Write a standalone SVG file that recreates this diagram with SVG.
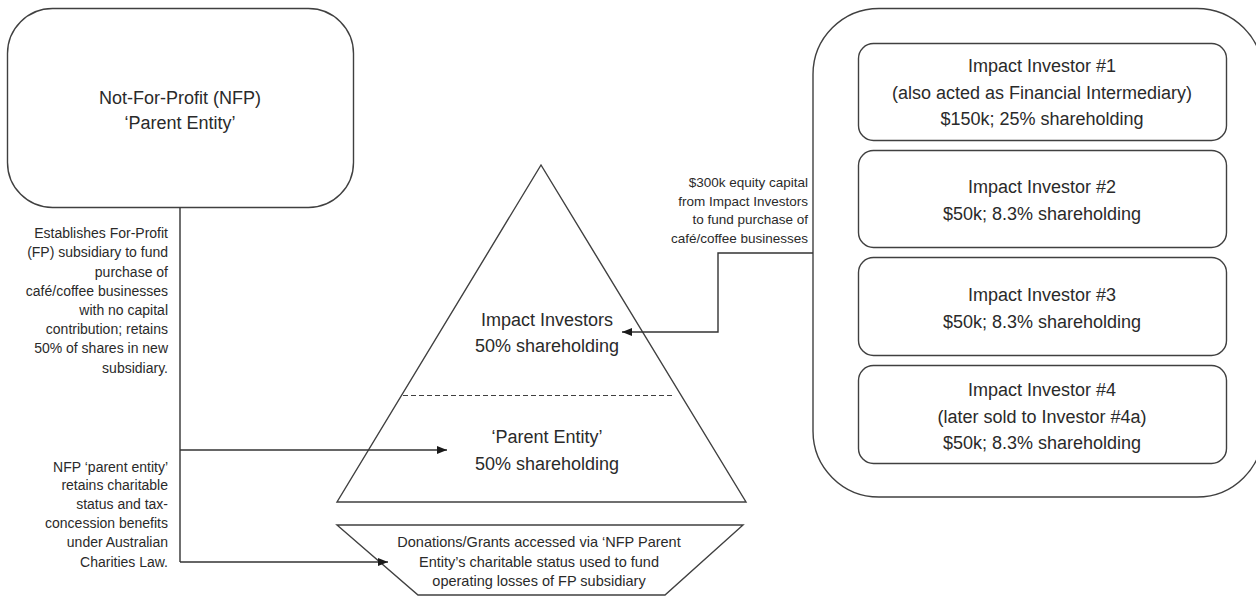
<svg xmlns="http://www.w3.org/2000/svg" width="1256" height="598" viewBox="0 0 1256 598">
<style>
  .shape { fill: #ffffff; stroke: #404040; stroke-width: 1.4; }
  .line { fill: none; stroke: #333333; stroke-width: 1.4; }
  .dash { fill: none; stroke: #404040; stroke-width: 1.2; stroke-dasharray: 5 3; }
  text { font-family: "Liberation Sans", Arial, sans-serif; fill: #2a2a2a; }
  .big { font-size: 18px; text-anchor: middle; }
  .mid { font-size: 14.5px; text-anchor: middle; }
  .side { font-size: 14px; text-anchor: end; }
  .small { font-size: 13.5px; text-anchor: end; }
</style>
<defs>
  <marker id="arrow" markerWidth="10" markerHeight="8" refX="10" refY="4" orient="auto" markerUnits="userSpaceOnUse">
    <path d="M0,0 L10,4 L0,8 Z" fill="#1a1a1a"/>
  </marker>
</defs>
<rect width="1256" height="598" fill="#ffffff"/>

<g id="nfp-parent">
  <rect class="shape" x="7.5" y="8.5" width="346" height="199" rx="45" ry="45"/>
  <text class="big" x="180" y="103.5">Not-For-Profit (NFP)</text>
  <text class="big" x="180" y="128.5">‘Parent Entity’</text>
</g>

<g id="investor-container">
  <rect class="shape" x="813" y="8.5" width="450" height="488.5" rx="66" ry="66"/>
</g>

<g id="investor-1">
  <rect class="shape" x="858.5" y="43.5" width="368" height="97" rx="15" ry="15"/>
  <text class="big" x="1042" y="72">Impact Investor #1</text>
  <text class="big" x="1042" y="98.5">(also acted as Financial Intermediary)</text>
  <text class="big" x="1042" y="125">$150k; 25% shareholding</text>
</g>
<g id="investor-2">
  <rect class="shape" x="858.5" y="150.5" width="368" height="97" rx="15" ry="15"/>
  <text class="big" x="1042" y="193">Impact Investor #2</text>
  <text class="big" x="1042" y="219.5">$50k; 8.3% shareholding</text>
</g>
<g id="investor-3">
  <rect class="shape" x="858.5" y="257.5" width="368" height="98" rx="15" ry="15"/>
  <text class="big" x="1042" y="301">Impact Investor #3</text>
  <text class="big" x="1042" y="327.5">$50k; 8.3% shareholding</text>
</g>
<g id="investor-4">
  <rect class="shape" x="858.5" y="365.5" width="368" height="98" rx="15" ry="15"/>
  <text class="big" x="1042" y="396">Impact Investor #4</text>
  <text class="big" x="1042" y="422.5">(later sold to Investor #4a)</text>
  <text class="big" x="1042" y="449">$50k; 8.3% shareholding</text>
</g>

<g id="fp-subsidiary-pyramid">
  <polygon class="shape" points="541,165 337,502 746,502"/>
  <line class="dash" x1="403" y1="395.5" x2="675" y2="395.5"/>
  <text class="big" x="547" y="326">Impact Investors</text>
  <text class="big" x="547" y="351.5">50% shareholding</text>
  <text class="big" x="547" y="443">‘Parent Entity’</text>
  <text class="big" x="547" y="469.5">50% shareholding</text>
</g>

<g id="donations">
  <polygon class="shape" points="337,525 743,525 665,595 418,595"/>
  <text class="mid" x="539" y="547">Donations/Grants accessed via ‘NFP Parent</text>
  <text class="mid" x="539" y="567">Entity’s charitable status used to fund</text>
  <text class="mid" x="539" y="586">operating losses of FP subsidiary</text>
</g>

<g id="connectors">
  <line class="line" x1="180" y1="207.5" x2="180" y2="562"/>
  <line class="line" x1="180" y1="450" x2="447" y2="450" marker-end="url(#arrow)"/>
  <line class="line" x1="180" y1="562" x2="388" y2="562" marker-end="url(#arrow)"/>
  <polyline class="line" points="813,253 718,253 718,332 622,332" marker-end="url(#arrow)"/>
</g>

<g id="labels">
  <text class="side" x="168" y="238">Establishes For-Profit</text>
  <text class="side" x="168" y="257">(FP) subsidiary to fund</text>
  <text class="side" x="168" y="277">purchase of</text>
  <text class="side" x="168" y="296">café/coffee businesses</text>
  <text class="side" x="168" y="315">with no capital</text>
  <text class="side" x="168" y="334">contribution; retains</text>
  <text class="side" x="168" y="353">50% of shares in new</text>
  <text class="side" x="168" y="373">subsidiary.</text>

  <text class="side" x="168" y="472">NFP ‘parent entity’</text>
  <text class="side" x="168" y="490">retains charitable</text>
  <text class="side" x="168" y="509">status and tax-</text>
  <text class="side" x="168" y="528">concession benefits</text>
  <text class="side" x="168" y="547">under Australian</text>
  <text class="side" x="168" y="567">Charities Law.</text>

  <text class="small" x="808" y="187">$300k equity capital</text>
  <text class="small" x="808" y="206">from Impact Investors</text>
  <text class="small" x="808" y="224">to fund purchase of</text>
  <text class="small" x="808" y="243">café/coffee businesses</text>
</g>
</svg>
